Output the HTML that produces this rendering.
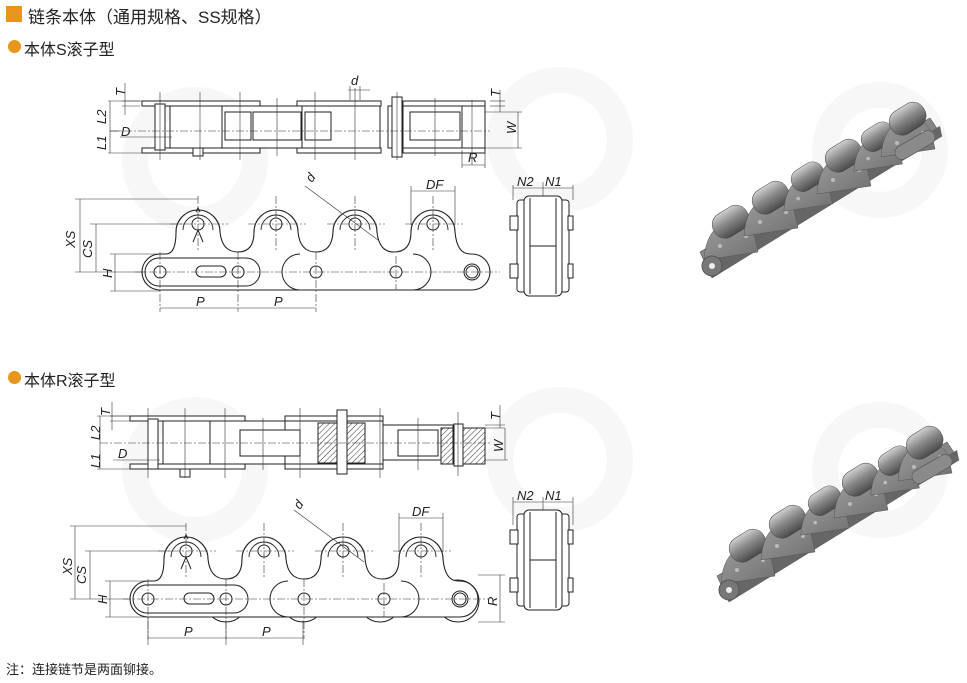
<!DOCTYPE html>
<html><head><meta charset="utf-8">
<style>
html,body{margin:0;padding:0;background:#fff;}
body{width:967px;height:683px;overflow:hidden;position:relative;font-family:"Liberation Sans","Noto Sans CJK SC",sans-serif;}
.t{position:absolute;color:#222;white-space:nowrap;}
</style></head><body>
<div style="position:absolute;left:6px;top:6px;width:16px;height:16px;background:#e8961b"></div>
<div class="t" style="left:28px;top:3px;font-size:17px;">链条本体（通用规格、SS规格）</div>
<div style="position:absolute;left:8px;top:40px;width:13px;height:13px;border-radius:50%;background:#e8961b"></div>
<div class="t" style="left:24px;top:36px;font-size:16px;">本体S滚子型</div>
<div style="position:absolute;left:8px;top:371px;width:13px;height:13px;border-radius:50%;background:#e8961b"></div>
<div class="t" style="left:24px;top:367px;font-size:16px;">本体R滚子型</div>
<div class="t" style="left:6px;top:659px;font-size:13px;">注：连接链节是两面铆接。</div>

<svg width="967" height="683" style="position:absolute;left:0;top:0" xmlns="http://www.w3.org/2000/svg">
<defs>
<linearGradient id="g1" x1="0" y1="0" x2="0" y2="1">
<stop offset="0" stop-color="#d0d0d0"/><stop offset="0.45" stop-color="#8a8a8a"/><stop offset="1" stop-color="#4a4a4a"/></linearGradient>
<linearGradient id="gp" x1="0" y1="0" x2="1" y2="1">
<stop offset="0" stop-color="#9c9c9c"/><stop offset="1" stop-color="#707070"/></linearGradient>
<pattern id="hatch" width="4" height="4" patternUnits="userSpaceOnUse" patternTransform="rotate(45)">
<rect width="4" height="4" fill="#fff"/><line x1="0" y1="0" x2="0" y2="4" stroke="#333" stroke-width="1"/></pattern>
<path id="plate" d="M160,290 A18,18 0 0 1 160,254 L166,254 Q176,254 176,232 A22,22 0 1 1 220,232 Q222,252 238,252 Q254,252 254,232 A22,22 0 1 1 298,232 Q300,252 316,252 Q332,252 333,232 A22,22 0 1 1 377,232 Q379,252 394,252 Q411,252 411,232 A22,22 0 1 1 455,232 Q457,254 470,254 L472,254 A18,18 0 0 1 472,290 Z"/>
<g id="side">
<use href="#plate" fill="#fff" stroke="#222" stroke-width="1.1"/>
<path d="M183,230 A15,15 0 1 1 213,230 M261,230 A15,15 0 1 1 291,230 M340,230 A15,15 0 1 1 370,230 M418,230 A15,15 0 1 1 448,230" fill="none" stroke="#222" stroke-width="0.9"/>
<rect x="145" y="258" width="115" height="28" rx="14" fill="none" stroke="#222"/>
<path d="M300,290 A18,18 0 0 1 300,254 M413,254 A18,18 0 0 1 413,290" fill="none" stroke="#222"/>
<rect x="196" y="266" width="30" height="11" rx="5.5" fill="none" stroke="#222"/>
<g fill="#fff" stroke="#222">
<circle cx="160" cy="272" r="6"/><circle cx="238" cy="272" r="6"/><circle cx="316" cy="272" r="6"/><circle cx="396" cy="272" r="6"/><circle cx="472" cy="272" r="6"/><circle cx="472" cy="272" r="8" fill="none"/>
<circle cx="198" cy="224" r="6"/><circle cx="276" cy="224" r="6"/><circle cx="355" cy="224" r="6"/><circle cx="433" cy="224" r="6"/>
</g>
<path d="M193,242 L198,230 L203,242 M196,212 L198,208 L200,212" fill="none" stroke="#222"/>
<g stroke="#333" stroke-width="0.6" stroke-dasharray="8,2,2,2" fill="none">
<line x1="135" y1="272" x2="500" y2="272"/>
<line x1="170" y1="224" x2="228" y2="224"/><line x1="248" y1="224" x2="306" y2="224"/><line x1="327" y1="224" x2="385" y2="224"/><line x1="405" y1="224" x2="463" y2="224"/>
<line x1="198" y1="196" x2="198" y2="252"/><line x1="276" y1="196" x2="276" y2="252"/><line x1="355" y1="196" x2="355" y2="252"/><line x1="433" y1="196" x2="433" y2="252"/>
<line x1="160" y1="252" x2="160" y2="312"/><line x1="238" y1="252" x2="238" y2="312"/><line x1="316" y1="252" x2="316" y2="312"/><line x1="396" y1="256" x2="396" y2="290"/>
</g>
</g>
<g id="endv" fill="#fff" stroke="#222" stroke-width="1">
<rect x="517" y="200" width="52" height="92" rx="3"/>
<rect x="524" y="196" width="38" height="100" rx="5"/>
<line x1="530" y1="246" x2="556" y2="246"/>
<line x1="530" y1="198" x2="530" y2="294"/><line x1="556" y1="198" x2="556" y2="294"/>
<rect x="510" y="216" width="8" height="14"/><rect x="568" y="216" width="5" height="14"/>
<rect x="510" y="264" width="8" height="14"/><rect x="568" y="264" width="5" height="14"/>
</g>
<g id="lobe">
<path d="M-28,38 Q-26,8 -8,2 Q14,-3 22,12 L26,30 Z" fill="url(#gp)" stroke="#555" stroke-width="0.5"/>
<rect x="-20" y="-14" width="38" height="26" rx="12" transform="rotate(-32)" fill="url(#g1)" stroke="#444" stroke-width="0.5"/>
<circle cx="-12" cy="24" r="2" fill="#bbb"/><circle cx="14" cy="14" r="2" fill="#bbb"/>
</g>
<g id="c3d">
<path d="M700,252 L930,118 L942,136 L712,278 Z" fill="url(#gp)" stroke="#555" stroke-width="0.6"/>
<path d="M702,262 L940,126 L942,136 L712,278 Z" fill="#666"/>
<use href="#lobe" transform="translate(732,222)"/>
<use href="#lobe" transform="translate(772,198)"/>
<use href="#lobe" transform="translate(809,177) scale(0.9)"/>
<use href="#lobe" transform="translate(845,156)"/>
<use href="#lobe" transform="translate(879,137) scale(0.9)"/>
<use href="#lobe" transform="translate(909,119)"/>
<rect x="893" y="138" width="44" height="14" rx="7" transform="rotate(-30 915 145)" fill="#8a8a8a" stroke="#555" stroke-width="0.6"/>
<circle cx="712" cy="266" r="10" fill="#777" stroke="#555"/><circle cx="712" cy="266" r="3" fill="#eee"/>
</g>
</defs>

<!-- faint watermark -->
<g fill="none" stroke="#f7f7f7" stroke-width="26">
<circle cx="195" cy="160" r="60"/><circle cx="560" cy="140" r="60"/><circle cx="195" cy="470" r="60"/><circle cx="560" cy="460" r="60"/>
<circle cx="880" cy="150" r="55"/><circle cx="880" cy="470" r="55"/>
</g>

<!-- ===== S top view ===== -->
<g fill="#fff" stroke="#222" stroke-width="1">
<rect x="142" y="101" width="118" height="5"/><rect x="142" y="148" width="118" height="5"/>
<rect x="297" y="101" width="84" height="5"/><rect x="297" y="148" width="84" height="5"/>
<rect x="403" y="101" width="82" height="5"/><rect x="403" y="148" width="82" height="5"/>
<rect x="170" y="106" width="54" height="42"/>
<rect x="222" y="106" width="82" height="42"/>
<rect x="302" y="106" width="78" height="42"/>
<rect x="388" y="106" width="18" height="42"/>
<rect x="403" y="106" width="60" height="42"/>
<rect x="462" y="106" width="23" height="42"/>
<rect x="253" y="112" width="48" height="28"/>
<rect x="225" y="112" width="26" height="28"/><rect x="305" y="112" width="26" height="28"/>
<rect x="410" y="112" width="50" height="28"/>
<rect x="392" y="97" width="10" height="60"/>
<rect x="155" y="104" width="10" height="46"/>
<rect x="193" y="148" width="10" height="8"/>
</g>
<g stroke="#333" stroke-width="0.6" fill="none">
<line x1="110" y1="131" x2="490" y2="131" stroke-dasharray="8,2,2,2"/>
<line x1="160" y1="92" x2="160" y2="160"/><line x1="200" y1="92" x2="200" y2="160"/><line x1="240" y1="92" x2="240" y2="160"/><line x1="277" y1="98" x2="277" y2="156"/><line x1="315" y1="92" x2="315" y2="160"/><line x1="355" y1="88" x2="355" y2="160"/><line x1="397" y1="92" x2="397" y2="160"/><line x1="435" y1="98" x2="435" y2="156"/><line x1="472" y1="100" x2="472" y2="165"/>
<line x1="108" y1="101" x2="142" y2="101"/><line x1="108" y1="153" x2="142" y2="153"/><line x1="110" y1="101" x2="110" y2="153"/>
<line x1="125" y1="83" x2="125" y2="115"/><line x1="122" y1="101" x2="140" y2="101"/><line x1="122" y1="106" x2="140" y2="106"/>
<line x1="110" y1="131" x2="120" y2="131"/>
<line x1="120" y1="137" x2="172" y2="137"/>
<line x1="348" y1="90" x2="370" y2="90"/><line x1="350" y1="86" x2="350" y2="100"/><line x1="360" y1="86" x2="360" y2="100"/>
<line x1="490" y1="101" x2="505" y2="101"/><line x1="490" y1="106" x2="505" y2="106"/><line x1="500" y1="90" x2="500" y2="112"/>
<line x1="485" y1="112" x2="522" y2="112"/><line x1="485" y1="148" x2="522" y2="148"/><line x1="518" y1="112" x2="518" y2="148"/>
<line x1="462" y1="150" x2="462" y2="168"/><line x1="485" y1="150" x2="485" y2="168"/><line x1="462" y1="165" x2="485" y2="165"/>
</g>
<g font-family="Liberation Sans,sans-serif" font-style="italic" font-size="13" fill="#222">
<text x="0" y="0" transform="translate(125,96) rotate(-90)">T</text>
<text x="0" y="0" transform="translate(106,124) rotate(-90)">L2</text>
<text x="0" y="0" transform="translate(106,150) rotate(-90)">L1</text>
<text x="121" y="136">D</text>
<text x="351" y="85">d</text>
<text x="0" y="0" transform="translate(500,97) rotate(-90)">T</text>
<text x="0" y="0" transform="translate(516,134) rotate(-90)">W</text>
<text x="468" y="162">R</text>
</g>

<!-- ===== S side view ===== -->
<use href="#side"/>
<g stroke="#333" stroke-width="0.6" fill="none">
<line x1="75" y1="199" x2="198" y2="199"/><line x1="80" y1="199" x2="80" y2="272"/>
<line x1="90" y1="224" x2="185" y2="224"/><line x1="96" y1="224" x2="96" y2="272"/>
<line x1="110" y1="254" x2="160" y2="254"/><line x1="115" y1="254" x2="115" y2="291"/><line x1="110" y1="291" x2="160" y2="291"/>
<line x1="75" y1="272" x2="145" y2="272"/>
<line x1="160" y1="308" x2="316" y2="308"/>
<line x1="411" y1="186" x2="411" y2="225"/><line x1="455" y1="186" x2="455" y2="225"/><line x1="411" y1="191" x2="455" y2="191"/>
<line x1="305" y1="186" x2="378" y2="240"/>
<line x1="513" y1="185" x2="513" y2="200"/><line x1="543" y1="182" x2="543" y2="200"/><line x1="573" y1="185" x2="573" y2="200"/><line x1="513" y1="188" x2="573" y2="188"/>
</g>
<g font-family="Liberation Sans,sans-serif" font-style="italic" font-size="13" fill="#222">
<text x="0" y="0" transform="translate(75,248) rotate(-90)">XS</text>
<text x="0" y="0" transform="translate(92,258) rotate(-90)">CS</text>
<text x="0" y="0" transform="translate(112,278) rotate(-90)">H</text>
<text x="196" y="306">P</text><text x="274" y="306">P</text>
<text x="426" y="189">DF</text>
<text x="0" y="0" transform="translate(312,183) rotate(-55)">d</text>
<text x="517" y="186">N2</text><text x="545" y="186">N1</text>
</g>
<use href="#endv"/>

<!-- ===== R top view ===== -->
<g fill="#fff" stroke="#222" stroke-width="1">
<rect x="130" y="416" width="115" height="5"/><rect x="130" y="464" width="115" height="5"/>
<rect x="285" y="416" width="98" height="5"/><rect x="285" y="464" width="98" height="5"/>
<rect x="163" y="421" width="48" height="43"/>
<rect x="210" y="421" width="75" height="43"/>
<rect x="285" y="421" width="98" height="43"/>
<rect x="240" y="430" width="60" height="26"/>
<rect x="383" y="425" width="70" height="35"/>
<rect x="398" y="430" width="40" height="26"/>
<rect x="148" y="419" width="10" height="50"/>
<rect x="180" y="469" width="10" height="8"/>
</g>
<rect x="318" y="423" width="47" height="40" fill="url(#hatch)" stroke="#222"/>
<rect x="337" y="410" width="10" height="64" fill="#fff" stroke="#222"/>
<rect x="441" y="428" width="12" height="36" fill="url(#hatch)" stroke="#222"/>
<rect x="463" y="428" width="22" height="36" fill="url(#hatch)" stroke="#222"/>
<rect x="454" y="424" width="9" height="42" fill="#fff" stroke="#222"/>
<g stroke="#333" stroke-width="0.6" fill="none">
<line x1="100" y1="443" x2="490" y2="443" stroke-dasharray="8,2,2,2"/>
<line x1="148" y1="408" x2="148" y2="478"/><line x1="185" y1="408" x2="185" y2="478"/><line x1="225" y1="408" x2="225" y2="478"/><line x1="263" y1="418" x2="263" y2="470"/><line x1="300" y1="408" x2="300" y2="478"/><line x1="380" y1="408" x2="380" y2="478"/><line x1="418" y1="418" x2="418" y2="470"/><line x1="458" y1="412" x2="458" y2="476"/>
<line x1="97" y1="416" x2="130" y2="416"/><line x1="97" y1="469" x2="130" y2="469"/><line x1="100" y1="416" x2="100" y2="469"/>
<line x1="112" y1="402" x2="112" y2="430"/><line x1="110" y1="416" x2="130" y2="416"/><line x1="110" y1="421" x2="130" y2="421"/>
<line x1="113" y1="460" x2="160" y2="460"/>
<line x1="485" y1="425" x2="505" y2="425"/><line x1="485" y1="428" x2="505" y2="428"/><line x1="500" y1="405" x2="500" y2="428"/>
<line x1="485" y1="460" x2="508" y2="460"/><line x1="505" y1="428" x2="505" y2="460"/>
</g>
<g font-family="Liberation Sans,sans-serif" font-style="italic" font-size="13" fill="#222">
<text x="0" y="0" transform="translate(110,416) rotate(-90)">T</text>
<text x="0" y="0" transform="translate(100,440) rotate(-90)">L2</text>
<text x="0" y="0" transform="translate(100,468) rotate(-90)">L1</text>
<text x="118" y="458">D</text>
<text x="0" y="0" transform="translate(500,420) rotate(-90)">T</text>
<text x="0" y="0" transform="translate(503,452) rotate(-90)">W</text>
</g>

<!-- ===== R side view ===== -->
<g fill="#fff" stroke="#222">
<circle cx="226" cy="601" r="21"/><circle cx="303" cy="601" r="21"/><circle cx="380" cy="601" r="21"/><circle cx="458" cy="601" r="21"/>
</g>
<use href="#side" transform="translate(-12,327)"/>
<g stroke="#333" stroke-width="0.6" fill="none">
<line x1="70" y1="526" x2="186" y2="526"/><line x1="75" y1="526" x2="75" y2="599"/>
<line x1="85" y1="551" x2="172" y2="551"/><line x1="90" y1="551" x2="90" y2="599"/>
<line x1="105" y1="581" x2="148" y2="581"/><line x1="110" y1="581" x2="110" y2="617"/><line x1="105" y1="617" x2="148" y2="617"/>
<line x1="70" y1="599" x2="130" y2="599"/>
<line x1="148" y1="638" x2="303" y2="638"/><line x1="148" y1="617" x2="148" y2="645"/><line x1="226" y1="620" x2="226" y2="645"/><line x1="303" y1="620" x2="303" y2="645"/>
<line x1="399" y1="513" x2="399" y2="552"/><line x1="443" y1="513" x2="443" y2="552"/><line x1="399" y1="518" x2="443" y2="518"/>
<line x1="294" y1="510" x2="364" y2="562"/>
<line x1="478" y1="575" x2="505" y2="575"/><line x1="478" y1="622" x2="505" y2="622"/><line x1="500" y1="575" x2="500" y2="622"/>
<line x1="513" y1="497" x2="513" y2="525"/><line x1="543" y1="497" x2="543" y2="525"/><line x1="573" y1="497" x2="573" y2="525"/><line x1="513" y1="502" x2="573" y2="502"/>
</g>
<g font-family="Liberation Sans,sans-serif" font-style="italic" font-size="13" fill="#222">
<text x="0" y="0" transform="translate(72,575) rotate(-90)">XS</text>
<text x="0" y="0" transform="translate(86,584) rotate(-90)">CS</text>
<text x="0" y="0" transform="translate(107,604) rotate(-90)">H</text>
<text x="0" y="0" transform="translate(497,606) rotate(-90)">R</text>
<text x="184" y="636">P</text><text x="262" y="636">P</text>
<text x="412" y="516">DF</text>
<text x="0" y="0" transform="translate(300,510) rotate(-55)">d</text>
<text x="517" y="500">N2</text><text x="545" y="500">N1</text>
</g>
<g transform="translate(0,314)"><use href="#endv"/></g>

<!-- ===== 3D chain images ===== -->
<use href="#c3d"/>
<use href="#c3d" transform="translate(17,324)"/>
</svg>
</body></html>
